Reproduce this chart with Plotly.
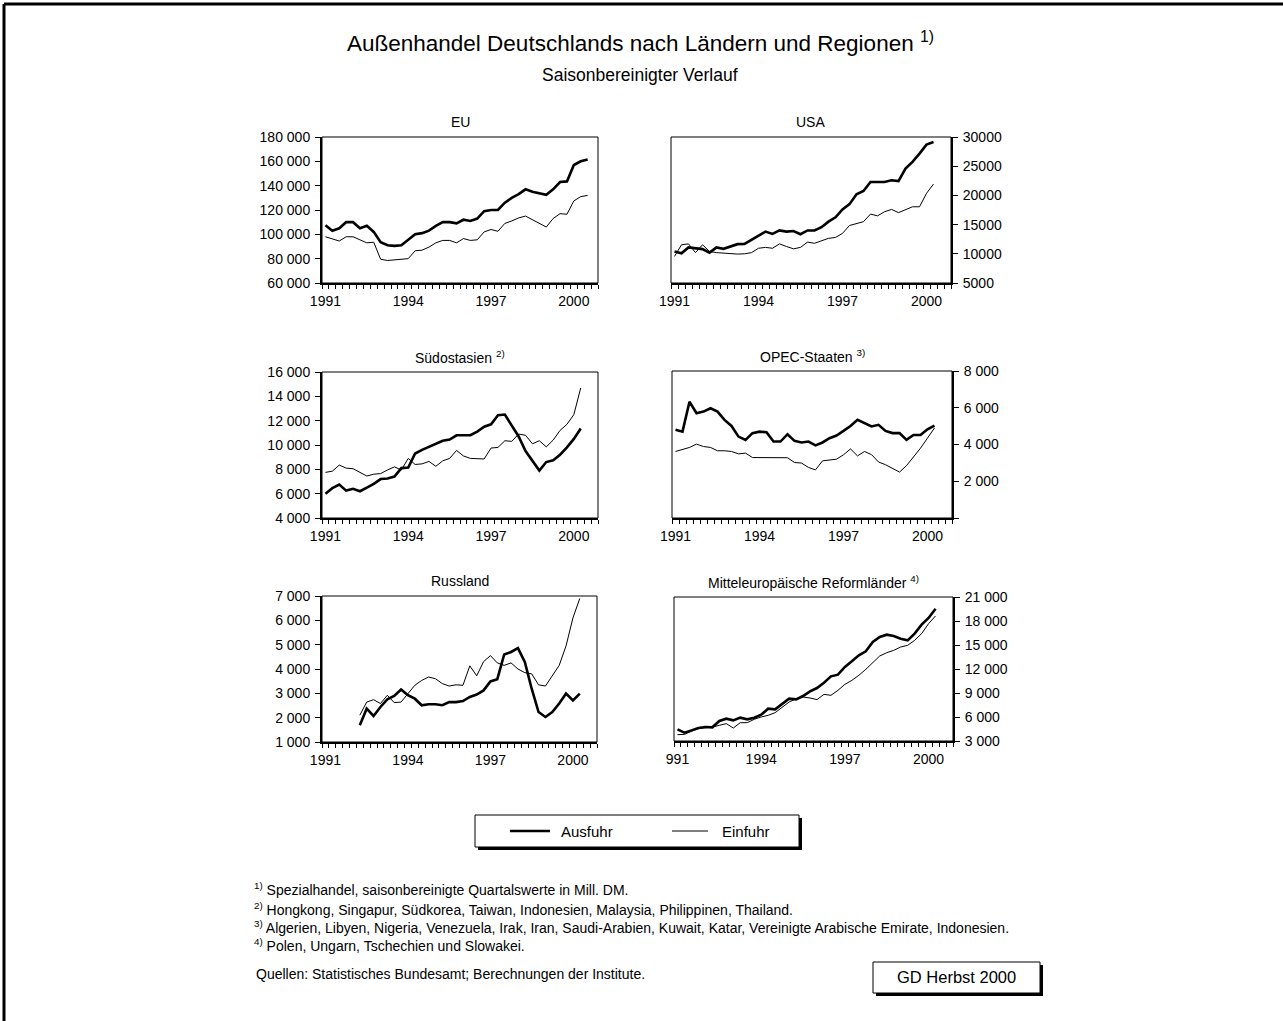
import plotly.graph_objects as go

W, H = 1283, 1021
FONT = "Liberation Sans, Arial, Helvetica, sans-serif"

# ---------------- data (Mill. DM, seasonally adjusted quarterly values) ----------------
quarters = [f"{y}Q{q}" for y in range(1991, 2001) for q in range(1, 5)]

eu_aus = [107500, 103000, 105000, 110000, 110000, 105000, 107000, 102000, 93500, 91000,
          90500, 91000, 95500, 100000, 101000, 103000, 107000, 110000, 110000, 109000,
          112000, 111000, 113000, 119000, 120000, 120000, 126000, 130000, 133000, 137000,
          135000, 134000, 132500, 137000, 143000, 143500, 157000, 160000, 161500]
eu_ein = [98000, 96000, 94500, 98000, 98000, 95500, 93000, 93500, 79500, 78500,
          79000, 79000, 80000, 86500, 87000, 89500, 93000, 95000, 95000, 93000,
          96500, 95000, 95500, 102000, 104000, 102500, 109000, 111000, 113500, 115000,
          112000, 109500, 106000, 113000, 117000, 116500, 127500, 131000, 132000]

usa_aus = [10400, 10100, 11100, 11000, 10800, 10200, 11100, 10850, 11250, 11650,
           11700, 12400, 13100, 13800, 13400, 14000, 13800, 13900, 13350, 14000,
           14000, 14550, 15500, 16250, 17600, 18500, 20200, 20750, 22300, 22300,
           22300, 22600, 22450, 24600, 25750, 27150, 28700, 29150]
usa_ein = [9550, 11550, 11700, 10200, 11550, 10400, 10200, 10100, 10050, 9950,
           10000, 10200, 10950, 11100, 10950, 11700, 11250, 10850, 11100, 12000,
           11800, 12250, 12650, 12800, 13500, 14850, 15200, 15500, 16800, 16500,
           17200, 17600, 17050, 17600, 18050, 18050, 20350, 21950]

sea_aus = [6000, 6450, 6750, 6250, 6400, 6200, 6500, 6800, 7200, 7250,
           7400, 8100, 8150, 9300, 9600, 9850, 10100, 10350, 10450, 10800,
           10800, 10800, 11100, 11500, 11700, 12450, 12500, 11600, 10700, 9500,
           8650, 7900, 8600, 8750, 9200, 9800, 10500, 11350]
sea_ein = [7750, 7850, 8350, 8100, 8050, 7750, 7450, 7600, 7650, 7950,
           8200, 7950, 8900, 8400, 8450, 8650, 8250, 8700, 8900, 9550,
           9100, 8900, 8850, 8850, 9750, 9800, 10350, 10300, 10900, 10800,
           10100, 10350, 9850, 10400, 11200, 11700, 12500, 14700]

opec_aus = [4800, 4700, 6330, 5700, 5790, 5970, 5790, 5340, 5010, 4430,
            4250, 4620, 4700, 4670, 4160, 4160, 4560, 4200, 4110, 4160,
            3950, 4110, 4340, 4490, 4740, 5010, 5340, 5160, 4980, 5070,
            4740, 4620, 4620, 4250, 4520, 4520, 4830, 5030]
opec_ein = [3620, 3710, 3840, 4020, 3890, 3840, 3660, 3660, 3620, 3490,
            3530, 3290, 3290, 3280, 3280, 3290, 3280, 3020, 2990, 2750,
            2620, 3110, 3150, 3200, 3440, 3760, 3380, 3620, 3450, 3050,
            2900, 2700, 2500, 2850, 3300, 3800, 4350, 4900]

rus_start = 5  # first quarter with data: 1992Q2
rus_aus = [1690, 2370, 2070, 2440, 2750, 2890, 3160, 2920, 2780, 2510,
           2550, 2550, 2510, 2640, 2640, 2680, 2850, 2950, 3120, 3490,
           3580, 4600, 4700, 4860, 4290, 3190, 2230, 2030, 2230, 2580,
           2990, 2710, 2990]
rus_ein = [2100, 2640, 2740, 2580, 2920, 2620, 2640, 2990, 3330, 3530,
           3670, 3600, 3400, 3300, 3350, 3330, 4130, 3720, 4300, 4550,
           4250, 4150, 4250, 4000, 3850, 3800, 3350, 3300, 3750, 4150,
           4950, 6100, 6900]

moe_aus = [4460, 4040, 4330, 4620, 4750, 4710, 5500, 5790, 5580, 5920,
           5710, 5920, 6290, 7040, 6960, 7580, 8290, 8210, 8620, 9210,
           9620, 10290, 11080, 11290, 12250, 12960, 13710, 14210, 15380, 16000,
           16290, 16120, 15790, 15580, 16420, 17540, 18380, 19540]
moe_ein = [3790, 3830, 4210, 4540, 4670, 4750, 4960, 5170, 4620, 5290,
           5290, 5710, 6000, 6210, 6540, 7250, 7870, 8290, 8500, 8380,
           8170, 8830, 8710, 9330, 10080, 10580, 11210, 11960, 12790, 13630,
           14040, 14330, 14750, 14960, 15580, 16420, 17670, 18630]

year_labels = ["1991", "1994", "1997", "2000"]
year_labels_moe = ["991", "1994", "1997", "2000"]

eu_ticks = [60000, 80000, 100000, 120000, 140000, 160000, 180000]
usa_ticks = [5000, 10000, 15000, 20000, 25000, 30000]
sea_ticks = [4000, 6000, 8000, 10000, 12000, 14000, 16000]
opec_ticks = [0, 2000, 4000, 6000, 8000]
rus_ticks = [1000, 2000, 3000, 4000, 5000, 6000, 7000]
moe_ticks = [3000, 6000, 9000, 12000, 15000, 18000, 21000]


def qx(q):
    """centre of a quarter category on a year axis"""
    y, n = int(quarters[q][:4]), int(quarters[q][5])
    return y + (n - 0.5) / 4


def sp(v):
    return f"{v:,}".replace(",", " ")


TICK = 14
# ---------------- panels ----------------
panels = [
    ("EU", eu_aus, eu_ein, 0, eu_ticks, [sp(v) for v in eu_ticks], "left", (322, 598, 137, 283), year_labels),
    ("USA", usa_aus, usa_ein, 0, usa_ticks, [str(v) for v in usa_ticks], "right", (671, 951, 137, 283), year_labels),
    ("Südostasien <sup>2)</sup>", sea_aus, sea_ein, 0, sea_ticks, [sp(v) for v in sea_ticks], "left", (322, 598, 372, 518), year_labels),
    ("OPEC-Staaten <sup>3)</sup>", opec_aus, opec_ein, 0, opec_ticks, ["" if v == 0 else sp(v) for v in opec_ticks], "right", (672, 952, 371, 518), year_labels),
    ("Russland", rus_aus, rus_ein, rus_start, rus_ticks, [sp(v) for v in rus_ticks], "left", (322, 597, 596, 742), year_labels),
    ("Mitteleuropäische Reformländer <sup>4)</sup>", moe_aus, moe_ein, 0, moe_ticks, [sp(v) for v in moe_ticks], "right", (674, 953, 597, 741), year_labels_moe),
]

fig = go.Figure()
shapes = []
annotations = []

label_years = [1991, 1994, 1997, 2000]

for k, (title, aus, ein, start, yt, ytt, side, (x0, x1, y0, y1), xl) in enumerate(panels):
    n = "" if k == 0 else str(k + 1)
    xs_a = [qx(start + i) for i in range(len(aus))]
    xs_e = [qx(start + i) for i in range(len(ein))]
    fig.add_trace(go.Scatter(x=xs_e, y=ein, mode="lines", line=dict(color="black", width=1),
                             xaxis="x" + n, yaxis="y" + n, showlegend=False, name="Einfuhr"))
    fig.add_trace(go.Scatter(x=xs_a, y=aus, mode="lines", line=dict(color="black", width=2.6),
                             xaxis="x" + n, yaxis="y" + n, showlegend=False, name="Ausfuhr"))
    fig.layout["xaxis" + n] = dict(
        domain=[x0 / W, x1 / W], anchor="y" + n, range=[1991, 2001], automargin=False,
        showgrid=False, zeroline=False, showline=True, linecolor="black", linewidth=2,
        tickvals=[y + 0.125 for y in label_years], ticktext=xl, ticks="", ticklen=0,
        ticklabelstandoff=4,
        tickfont=dict(family=FONT, size=TICK, color="black"),
        minor=dict(ticks="outside", ticklen=4, tickcolor="black", tickwidth=1, tick0=1991, dtick=0.25, showgrid=False),
        fixedrange=True,
    )
    fig.layout["yaxis" + n] = dict(
        domain=[1 - y1 / H, 1 - y0 / H], anchor="x" + n, side=side, range=[yt[0], yt[-1]], automargin=False,
        showgrid=False, zeroline=False, showline=True, linecolor="black", linewidth=2,
        tickvals=yt, ticktext=ytt, ticks="outside", ticklen=5, tickcolor="black", tickwidth=1,
        ticklabelstandoff=2,
        tickfont=dict(family=FONT, size=TICK, color="black"), fixedrange=True,
    )
    shapes.append(dict(type="rect", xref="x" + n + " domain", yref="y" + n + " domain",
                       x0=0, x1=1, y0=0, y1=1, line=dict(color="black", width=1)))
    annotations.append(dict(text=title, x=(x0 + x1) / 2 / W, y=1 - (y0 - 15) / H, xref="paper", yref="paper",
                            xanchor="center", yanchor="middle", showarrow=False,
                            font=dict(family=FONT, size=TICK, color="black")))


def px(x, y):
    return x / W, 1 - y / H


def rect(xa, ya, xb, yb, width=1, fill=None):
    p0, p1 = px(xa, ya), px(xb, yb)
    d = dict(type="rect", xref="paper", yref="paper", x0=p0[0], y0=p1[1], x1=p1[0], y1=p0[1],
             line=dict(color="black", width=width))
    if fill:
        d["fillcolor"] = fill
    return d


def line(xa, ya, xb, yb, width=1):
    p0, p1 = px(xa, ya), px(xb, yb)
    return dict(type="line", xref="paper", yref="paper", x0=p0[0], y0=p0[1], x1=p1[0], y1=p1[1],
                line=dict(color="black", width=width))


def text(t, x, y, size=12, anchor="left"):
    p = px(x, y)
    annotations.append(dict(text=t, x=p[0], y=p[1], xref="paper", yref="paper", xanchor=anchor,
                            yanchor="middle", showarrow=False, font=dict(family=FONT, size=size, color="black")))


# outer frame (left and top edges visible)
shapes.append(line(4, 4, 1283, 4, width=3))
shapes.append(line(4, 4, 4, 1021, width=3))

# titles
text("Außenhandel Deutschlands nach Ländern und Regionen <sup>1)</sup>", 640, 42, size=22.5, anchor="center")
text("Saisonbereinigter Verlauf", 640, 75, size=17.5, anchor="center")

# legend box with shadow
shapes.append(rect(478, 818, 802, 850, width=0, fill="black"))
shapes.append(rect(475, 815, 799, 847, width=1, fill="white"))
shapes.append(line(510, 831, 550, 831, width=2.6))
shapes.append(line(672, 831, 708, 831, width=1))
text("Ausfuhr", 559, 831, size=15)
text("Einfuhr", 720, 831, size=15)

# footnotes
FN = 14
text("<sup>1)</sup> Spezialhandel, saisonbereinigte Quartalswerte in Mill. DM.", 252, 889, size=FN)
text("<sup>2)</sup> Hongkong, Singapur, Südkorea, Taiwan, Indonesien, Malaysia, Philippinen, Thailand.", 252, 909, size=FN)
text("<sup>3)</sup> Algerien, Libyen, Nigeria, Venezuela, Irak, Iran, Saudi-Arabien, Kuwait, Katar, Vereinigte Arabische Emirate, Indonesien.", 252, 927, size=FN)
text("<sup>4)</sup> Polen, Ungarn, Tschechien und Slowakei.", 252, 945, size=FN)
text("Quellen: Statistisches Bundesamt; Berechnungen der Institute.", 254, 974, size=FN)

# "GD Herbst 2000" box with shadow
shapes.append(rect(876, 965, 1043, 996, width=0, fill="black"))
shapes.append(rect(873, 962, 1040, 993, width=1, fill="white"))
text("GD Herbst 2000", 956, 977, size=16.5, anchor="center")

fig.update_layout(
    width=W, height=H, margin=dict(l=0, r=0, t=0, b=0, pad=0, autoexpand=False),
    paper_bgcolor="white", plot_bgcolor="white",
    shapes=shapes, annotations=annotations, showlegend=False,
    font=dict(family=FONT, color="black"),
)

fig.write_html("out.html", config={"displayModeBar": False},
               post_script="document.body.style.margin='0';document.body.style.overflow='hidden';")
